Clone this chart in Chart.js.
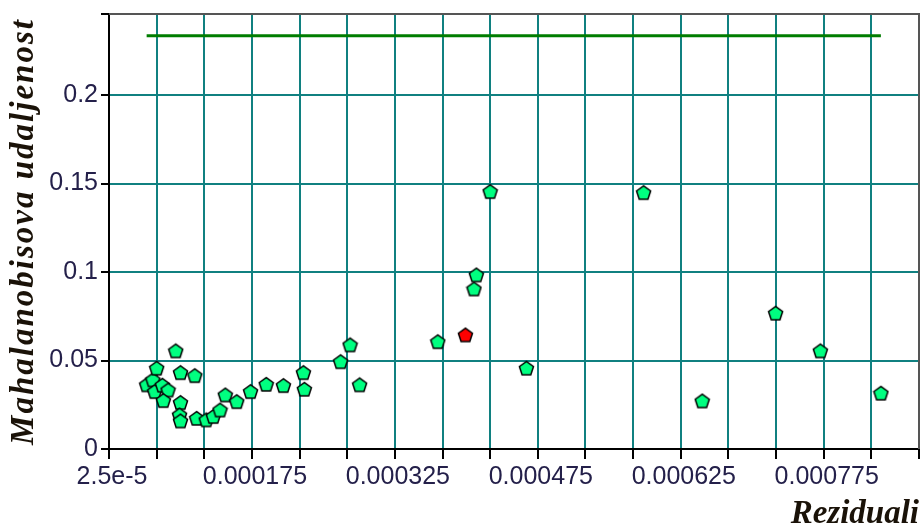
<!DOCTYPE html>
<html>
<head>
<meta charset="utf-8">
<script src="https://cdn.jsdelivr.net/npm/chart.js@4.4.1/dist/chart.umd.min.js"></script>
<style>
  html, body { margin: 0; padding: 0; background: #fff; }
  .wrap { width: 920px; height: 529px; position: relative; }
</style>
</head>
<body>
<div class="wrap"><canvas id="mahal-chart"></canvas></div>
<script>
// data =========================================================

const resid = [6.45e-5, 7.1e-5, 7.5e-5, 7.3e-5, 8.1e-5, 8.7e-5, 8.2e-5, 9.5e-5, 1.0e-4, 1.15e-4,
  1.0e-4, 9.9e-5, 1.0e-4, 1.17e-4, 1.27e-4, 1.345e-4, 1.415e-4, 1.47e-4, 1.59e-4, 1.735e-4,
  1.9e-4, 2.08e-4, 2.29e-4, 2.3e-4, 2.68e-4, 2.78e-4, 2.88e-4, 3.7e-4, 4.08e-4, 4.105e-4,
  4.25e-4, 4.63e-4, 5.86e-4, 6.475e-4, 7.245e-4, 7.715e-4, 8.35e-4];
const mahal = [0.0362, 0.039, 0.0456, 0.0324, 0.036, 0.0333, 0.0273, 0.0554, 0.0431, 0.0414,
  0.0262, 0.0192, 0.0158, 0.0173, 0.0164, 0.0183, 0.022, 0.0305, 0.0267, 0.0324,
  0.0365, 0.0358, 0.0431, 0.0337, 0.0493, 0.0588, 0.0362, 0.0606, 0.0904, 0.0983,
  0.1454, 0.0456, 0.1448, 0.0271, 0.0767, 0.0554, 0.0315];

const outlierResid = [3.99e-4];
const outlierMahal = [0.0644];

const criticalValue = 0.2335;

const xTickLabels = ['2.5e-5', '0.000175', '0.000325', '0.000475', '0.000625', '0.000775'];
const yTickLabels = ['0', '0.05', '0.1', '0.15', '0.2'];

const xTitle = 'Reziduali';
const yTitle = 'Mahalanobisova udaljenost';

// helpers ======================================================

function makePentagon(fill) {
  const c = document.createElement('canvas');
  c.width = 17;
  c.height = 17;
  const ctx = c.getContext('2d');
  ctx.beginPath();
  for (let i = 0; i < 5; i++) {
    const a = -Math.PI / 2 + i * 2 * Math.PI / 5;
    const px = 8.5 + 7.4 * Math.cos(a);
    const py = 9 + 7.4 * Math.sin(a);
    if (i === 0) ctx.moveTo(px, py); else ctx.lineTo(px, py);
  }
  ctx.closePath();
  ctx.fillStyle = fill;
  ctx.fill();
  ctx.lineWidth = 1.5;
  ctx.strokeStyle = '#000';
  ctx.stroke();
  return c;
}

const allResid = resid.concat(outlierResid);
const minResid = Math.min(...allResid);
const maxResid = Math.max(...allResid);

const titleColor = '#1a1208';

// top and right edges of the plot frame
const frameEdges = {
  id: 'frameEdges',
  afterDraw(chart) {
    const { ctx, chartArea: a } = chart;
    ctx.save();
    ctx.strokeStyle = '#555';
    ctx.lineWidth = 2;
    ctx.beginPath();
    ctx.moveTo(a.left, a.top);
    ctx.lineTo(a.right, a.top);
    ctx.lineTo(a.right, a.bottom);
    ctx.stroke();
    ctx.restore();
  }
};

// y title is stretched a bit along its length in the original
const yTitlePlugin = {
  id: 'yTitlePlugin',
  afterDraw(chart) {
    const { ctx, chartArea: a } = chart;
    ctx.save();
    ctx.translate(33, (a.top + a.bottom) / 2);
    ctx.rotate(-Math.PI / 2);
    ctx.font = 'italic bold 33px "Liberation Serif", "Times New Roman", serif';
    ctx.letterSpacing = '2px';
    ctx.textAlign = 'center';
    ctx.textBaseline = 'alphabetic';
    ctx.fillStyle = titleColor;
    ctx.fillText(yTitle, 0, 0);
    ctx.restore();
  }
};

// chart ========================================================

const gridColor = 'rgb(16, 128, 128)';
const tickFont = { family: '"Liberation Sans", Arial, sans-serif', size: 25 };
const titleFont = { family: '"Liberation Serif", "Times New Roman", serif', size: 33, weight: 'bold', style: 'italic', lineHeight: 1 };

const mahalChart = new Chart(document.getElementById('mahal-chart'), {
  type: 'scatter',
  data: {
    datasets: [{
      type: 'line',
      data: [{ x: minResid, y: criticalValue }, { x: maxResid, y: criticalValue }],
      borderColor: 'rgb(0, 125, 0)',
      borderWidth: 3,
      pointRadius: 0,
      order: 3
    }, {
      data: resid.map((r, i) => ({ x: r, y: mahal[i] })),
      pointStyle: makePentagon('#00ff80'),
      pointRadius: 8,
      order: 2
    }, {
      data: outlierResid.map((r, i) => ({ x: r, y: outlierMahal[i] })),
      pointStyle: makePentagon('#ff0000'),
      pointRadius: 8,
      order: 1
    }]
  },
  options: {
    responsive: true,
    maintainAspectRatio: false,
    animation: false,
    layout: {
      autoPadding: false,
      padding: { top: 14, right: 1, left: 0, bottom: 0 }
    },
    plugins: {
      legend: { display: false },
      tooltip: { enabled: false }
    },
    scales: {
      x: {
        type: 'linear',
        min: 2.5e-5,
        max: 8.75e-4,
        afterFit(scale) {
          scale.height = 80;
          scale.paddingLeft = 0;
          scale.paddingRight = 0;
        },
        border: { color: '#000', width: 2 },
        grid: { color: gridColor, lineWidth: 2, tickLength: 10, tickColor: '#000', tickWidth: 2 },
        ticks: {
          stepSize: 5e-5,
          autoSkip: false,
          maxRotation: 0,
          padding: 3,
          labelOffset: 3,
          color: '#24204a',
          font: tickFont,
          callback: (value, index) => (index % 3 === 0 ? xTickLabels[index / 3] : '') ?? ''
        },
        title: {
          display: true,
          text: xTitle,
          align: 'end',
          color: titleColor,
          font: titleFont,
          padding: { top: 0, bottom: -2 }
        }
      },
      y: {
        min: 0,
        max: 0.2458,
        afterFit(scale) {
          scale.width = 109;
          scale.paddingTop = 0;
          scale.paddingBottom = 0;
        },
        border: { color: '#000', width: 2 },
        grid: { color: gridColor, lineWidth: 2, tickLength: 8, tickColor: '#000', tickWidth: 2 },
        ticks: {
          stepSize: 0.05,
          autoSkip: false,
          padding: 3,
          color: '#24204a',
          font: tickFont,
          callback: (value, index) => yTickLabels[index] ?? ''
        }
      }
    }
  },
  plugins: [frameEdges, yTitlePlugin]
});
</script>
</body>
</html>
